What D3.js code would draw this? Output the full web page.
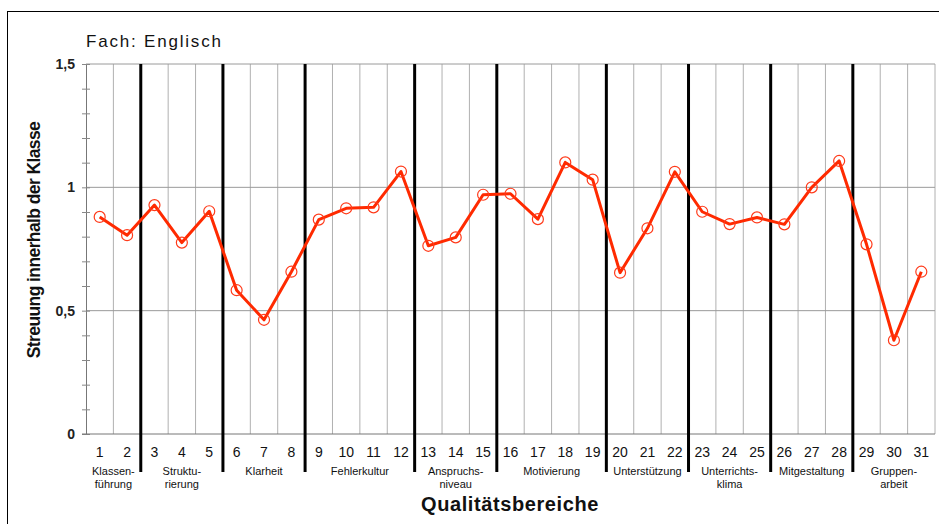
<!DOCTYPE html>
<html><head><meta charset="utf-8">
<script src="https://cdn.jsdelivr.net/npm/d3@7"></script>
<style>body{margin:0;background:#fff}svg{display:block;font-family:Arial,"Liberation Sans",sans-serif}</style>
</head><body>
<script>
const categories = d3.range(1, 32).map(String);
const values = [0.88,0.806,0.928,0.776,0.903,0.583,0.463,0.658,0.869,0.915,0.919,1.064,
  0.763,0.797,0.97,0.974,0.871,1.101,1.031,0.654,0.834,1.063,0.901,0.851,0.878,0.85,1.0,1.107,0.769,0.38,0.658];
const yTicks = [0, 0.5, 1, 1.5];
const yTickLabels = ["0","0,5","1","1,5"];
const groups = [
  {from:1,to:2,label:["Klassen-","führung"]},
  {from:3,to:5,label:["Struktu-","rierung"]},
  {from:6,to:8,label:["Klarheit"]},
  {from:9,to:12,label:["Fehlerkultur"]},
  {from:13,to:15,label:["Anspruchs-","niveau"]},
  {from:16,to:19,label:["Motivierung"]},
  {from:20,to:22,label:["Unterstützung"]},
  {from:23,to:25,label:["Unterrichts-","klima"]},
  {from:26,to:28,label:["Mitgestaltung"]},
  {from:29,to:31,label:["Gruppen-","arbeit"]}
];
const title = "Fach: Englisch";
const yTitle = "Streuung innerhalb der Klasse";
const xTitle = "Qualitätsbereiche";

const W = 939, H = 524;
const m = {l:86, r:4, t:64, b:90};
const svg = d3.select("body").append("svg").attr("width", W).attr("height", H);
svg.append("rect").attr("x",7.5).attr("y",11.5).attr("width",W).attr("height",H).attr("fill","none").attr("stroke","#000").attr("stroke-width",1);

const x = d3.scaleBand().domain(categories).range([m.l, W - m.r]).padding(0);
const y = d3.scaleLinear().domain([0, 1.5]).range([H - m.b, m.t]);
const y0 = y(0);

// vertical grid lines (band boundaries)
const bounds = categories.map(c => x(c) + x.bandwidth());
svg.append("g").selectAll("line").data(bounds).join("line")
  .attr("x1", d => d).attr("x2", d => d).attr("y1", m.t).attr("y2", y0)
  .attr("stroke", "#b0b0b0").attr("stroke-width", 1);

// horizontal grid
svg.append("g").selectAll("line").data(yTicks.filter(d => d > 0)).join("line")
  .attr("x1", m.l).attr("x2", W - m.r).attr("y1", d => y(d)).attr("y2", d => y(d))
  .attr("stroke", "#9a9a9a").attr("stroke-width", 1);

// y axis with minor ticks
const yAxis = d3.axisLeft(y).tickValues(d3.range(0, 16).map(i => i / 10)).tickFormat("").tickSize(4).tickSizeOuter(0);
const ya = svg.append("g").attr("transform", `translate(${m.l},0)`).call(yAxis);
ya.select(".domain").attr("stroke", "#777");
ya.selectAll(".tick line").attr("stroke", "#888").attr("x2", 4).attr("x1", -4);
svg.append("g").selectAll("text").data(yTicks).join("text")
  .attr("x", 75).attr("y", d => y(d) + 5).attr("text-anchor", "end")
  .attr("font-size", 14).attr("font-weight", "bold").attr("fill", "#222")
  .text((d, i) => yTickLabels[i]);

// x axis line
svg.append("line").attr("x1", m.l - 4).attr("x2", W - m.r).attr("y1", y0).attr("y2", y0).attr("stroke", "#777");

// group separators (thick black)
const seps = groups.slice(0, -1).map(g => x(String(g.to)) + x.bandwidth());
svg.append("g").selectAll("line").data(seps).join("line")
  .attr("x1", d => d).attr("x2", d => d).attr("y1", m.t).attr("y2", 472)
  .attr("stroke", "#000").attr("stroke-width", 3);

// x tick labels
svg.append("g").selectAll("text").data(categories).join("text")
  .attr("x", d => x(d) + x.bandwidth() / 2).attr("y", 457).attr("text-anchor", "middle")
  .attr("font-size", 14).attr("fill", "#111").text(d => d);

// group labels
const gl = svg.append("g").selectAll("text").data(groups).join("text")
  .attr("x", g => (x(String(g.from)) + x(String(g.to)) + x.bandwidth()) / 2)
  .attr("y", 475).attr("text-anchor", "middle").attr("font-size", 11).attr("fill", "#111");
gl.selectAll("tspan").data(g => g.label.map(t => ({t, cx: (x(String(g.from)) + x(String(g.to)) + x.bandwidth()) / 2}))).join("tspan")
  .attr("x", d => d.cx).attr("dy", (d, i) => i ? 13 : 0).text(d => d.t);

// line + markers
const cx = d => x(d) + x.bandwidth() / 2;
svg.append("path").datum(values)
  .attr("d", d3.line().x((d, i) => cx(categories[i])).y(d => y(d)))
  .attr("fill", "none").attr("stroke", "#ff2a00").attr("stroke-width", 3).attr("stroke-linejoin", "round");
svg.append("g").selectAll("circle").data(values).join("circle")
  .attr("cx", (d, i) => cx(categories[i])).attr("cy", d => y(d)).attr("r", 5.5)
  .attr("fill", "none").attr("stroke", "#ff3a1a").attr("stroke-width", 1.2);

// titles
svg.append("text").attr("x", 86).attr("y", 47).attr("font-size", 17).attr("letter-spacing", 1.8).attr("fill", "#111").text(title);
svg.append("text").attr("transform", `translate(40,240) rotate(-90)`).attr("text-anchor", "middle")
  .attr("font-size", 17.5).attr("font-weight", "bold").attr("letter-spacing", -0.6).attr("fill", "#111").text(yTitle);
svg.append("text").attr("x", 510).attr("y", 511).attr("text-anchor", "middle")
  .attr("font-size", 20).attr("font-weight", "bold").attr("letter-spacing", 0.6).attr("fill", "#111").text(xTitle);
</script>
</body></html>
